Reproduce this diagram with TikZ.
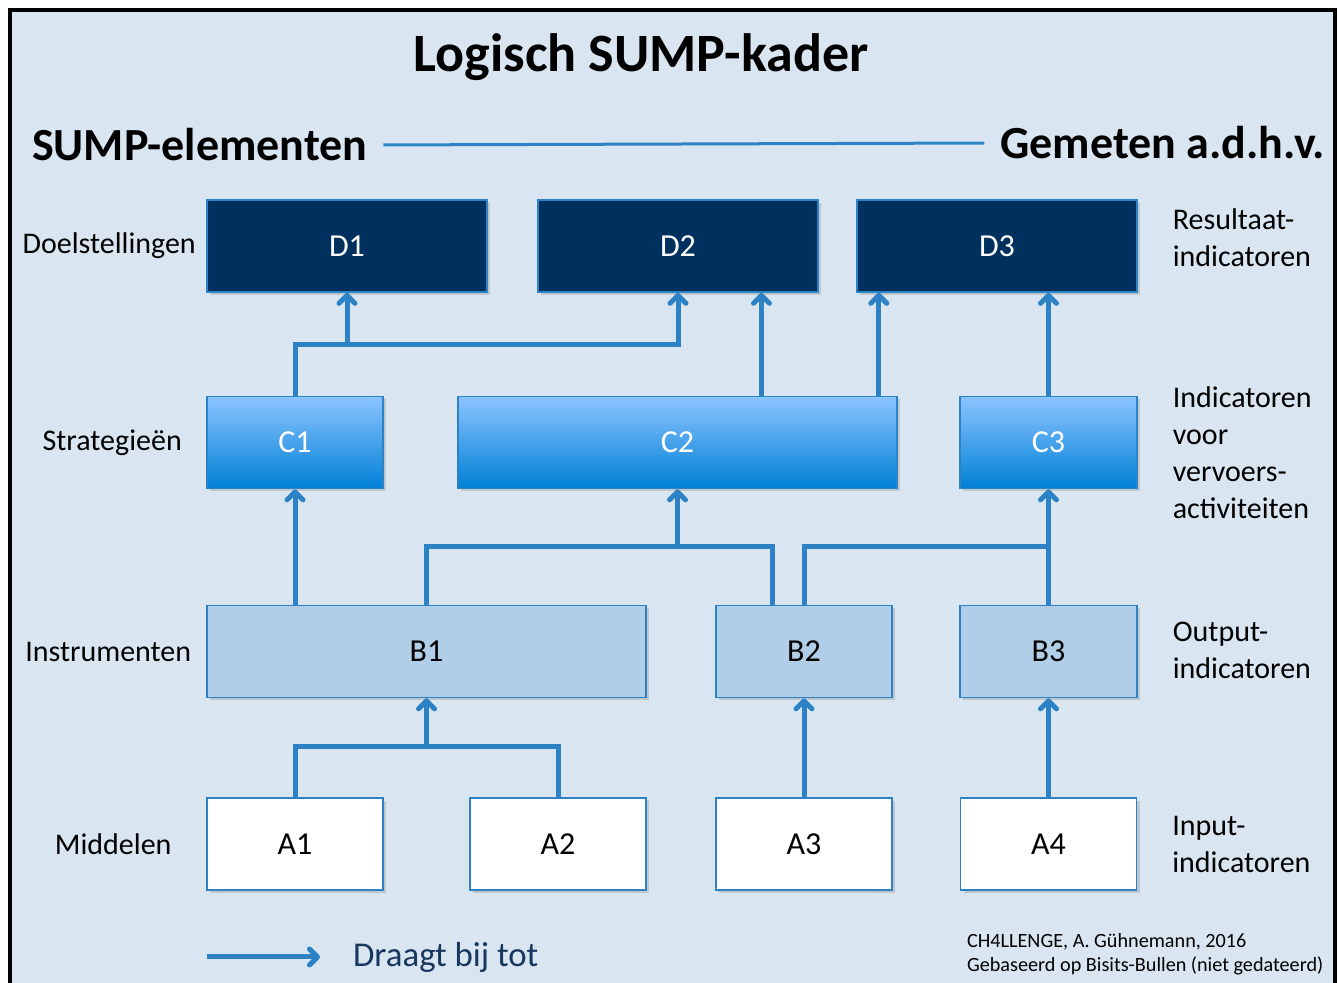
\documentclass[tikz,border=0pt]{standalone}
\usepackage{fontspec}
\setmainfont{Carlito}
\usepackage{xcolor}
\usetikzlibrary{
    arrows.meta,
    positioning,
    shadows
}

\definecolor{bgblue}{RGB}{217,229,241}
\definecolor{navy}{RGB}{0,49,94}
\definecolor{lineblue}{RGB}{44,130,196}
\definecolor{ctop}{RGB}{140,196,255}
\definecolor{cmid}{RGB}{96,168,238}
\definecolor{cbot}{RGB}{0,128,214}
\definecolor{bfill}{RGB}{176,206,231}
\definecolor{legendtxt}{RGB}{23,55,94}

\begin{document}
\begin{tikzpicture}[x=0.5pt, y=-0.5pt,
    box/.style={draw=lineblue, line width=0.8pt, inner sep=0pt, minimum height=46pt,
        font=\fontsize{16}{19}\selectfont,
        drop shadow={shadow xshift=1.5pt, shadow yshift=-1.5pt, opacity=0.3}},
    dbox/.style={box, fill=navy, text=white, minimum width=140pt},
    cbox/.style={box, top color=ctop, middle color=cmid, bottom color=cbot, text=white},
    bbox/.style={box, fill=bfill},
    abox/.style={box, fill=white, minimum width=88pt},
    sidelbl/.style={font=\fontsize{15}{18.5}\selectfont, align=left},
    hdr/.style={font=\fontsize{23}{27}\selectfont\bfseries},
    conn/.style={draw=lineblue, line width=2.5pt},
    flow/.style={conn, -{Straight Barb[length=4pt, width=8pt, round]}}
]
    \useasboundingbox (0,0) rectangle (1340,983);
    \fill[bgblue] (10,10) rectangle (1335,983);
    \draw[line width=2pt] (10,983) -- (10,10) -- (1335,10) -- (1335,983);

    % headings
    \node[font=\fontsize{27}{32}\selectfont\bfseries] (title) at (641,57) {Logisch SUMP-kader};
    \node[hdr, anchor=west] (elem) at (25,145) {SUMP-elementen};
    \node[hdr, anchor=east] (meas) at (1332,143) {Gemeten a.d.h.v.};
    \draw[lineblue, line width=1.5pt, shorten <=4.5pt, shorten >=4.5pt] (elem.east) -- (meas.west);

    % boxes
    \node[dbox] (D1) at (347,246) {D1};
    \node[dbox] (D2) at (678,246) {D2};
    \node[dbox] (D3) at (997,246) {D3};

    \node[cbox, minimum width=88pt] (C1) at (295,442.5) {C1};
    \node[cbox, minimum width=219.5pt] (C2) at (677.5,442.5) {C2};
    \node[cbox, minimum width=88.5pt] (C3) at (1048.5,442.5) {C3};

    \node[bbox, minimum width=219.5pt] (B1) at (426.5,651.5) {B1};
    \node[bbox, minimum width=88pt] (B2) at (804,651.5) {B2};
    \node[bbox, minimum width=88.5pt] (B3) at (1048.5,651.5) {B3};

    \node[abox] (A1) at (295,844) {A1};
    \node[abox] (A2) at (558,844) {A2};
    \node[abox] (A3) at (804,844) {A3};
    \node[abox] (A4) at (1048.5,844) {A4};

    % row labels
    \node[sidelbl] (lD) at ([xshift=-48.5pt]D1.west) {Doelstellingen};
    \node[sidelbl] (lC) at ([xshift=-47pt]C1.west) {Strategieën};
    \node[sidelbl] (lB) at ([xshift=-49pt]B1.west) {Instrumenten};
    \node[sidelbl] (lA) at ([xshift=-46.5pt]A1.west) {Middelen};

    \node[sidelbl, anchor=west] (rD) at ([xshift=14pt, yshift=4pt]D3.east) {Resultaat-\\indicatoren};
    \node[sidelbl, anchor=west] (rC) at ([xshift=14pt, yshift=-5pt]C3.east) {Indicatoren\\voor\\vervoers-\\activiteiten};
    \node[sidelbl, anchor=west] (rB) at ([xshift=14pt, yshift=0.5pt]B3.east) {Output-\\indicatoren};
    \node[sidelbl, anchor=west] (rA) at ([xshift=14pt]A4.east) {Input-\\indicatoren};

    % connectors
    \coordinate (cd) at (0,345);
    \coordinate (bc) at (0,547);
    \coordinate (ab) at (0,747);

    \draw[flow] (C1.north) -- (C1.north |- cd) -- (D2.south |- cd) -- (D2.south);
    \draw[flow] (D1.south |- cd) -- (D1.south);
    \draw[flow] ([xshift=42pt]C2.north) -- ([xshift=42pt]C2.north |- D2.south);
    \draw[flow] ([xshift=-9.5pt]C2.north east) -- ([xshift=-9.5pt]C2.north east |- D3.south);
    \draw[flow] (C3.north) -- (C3.north |- D3.south);

    \draw[flow] (C1.south |- B1.north) -- (C1.south);
    \draw[flow] (B1.north) -- (B1.north |- bc) -- (C2.south |- bc) -- (C2.south);
    \draw[conn] ([xshift=-16pt]B2.north) -- ([xshift=-16pt]B2.north |- bc) -- (C2.south |- bc);
    \draw[conn] (B2.north) -- (B2.north |- bc) -- (C3.south |- bc);
    \draw[flow] (B3.north) -- (C3.south);

    \draw[conn] (A1.north) -- (A1.north |- ab) -- (A2.north |- ab) -- (A2.north);
    \draw[flow] (B1.south |- ab) -- (B1.south);
    \draw[flow] (A3.north) -- (B2.south);
    \draw[flow] (A4.north) -- (B3.south);

    % legend and source
    \coordinate (lg1) at (207,957);
    \coordinate (lg2) at (320,957);
    \draw[flow] (lg1) -- (lg2);
    \node[anchor=west, text=legendtxt, font=\fontsize{17.4}{20}\selectfont] (lgtxt) at ([xshift=13pt]lg2) {Draagt bij tot};
    \node[anchor=west, align=left, font=\fontsize{10.1}{12}\selectfont] (src) at (960,954) {CH4LLENGE, A. Gühnemann, 2016\\Gebaseerd op Bisits-Bullen (niet gedateerd)};
\end{tikzpicture}
\end{document}
